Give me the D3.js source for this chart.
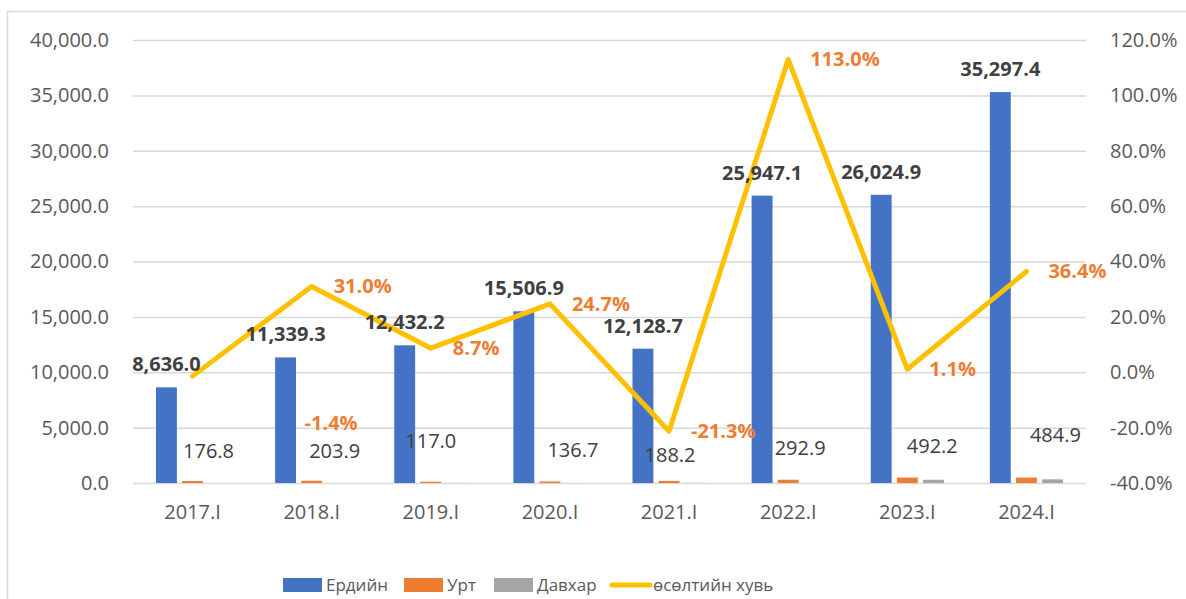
<!DOCTYPE html>
<html>
<head>
<meta charset="utf-8">
<script src="https://cdn.jsdelivr.net/npm/d3@7/dist/d3.min.js"></script>
<style>
  body { margin: 0; background: #fff; }
  text { font-family: "Open Sans", "Noto Sans", sans-serif; }
</style>
</head>
<body>
<div id="chart"></div>
<script>
// chart data
var categories = ["2017.I", "2018.I", "2019.I", "2020.I", "2021.I", "2022.I", "2023.I", "2024.I"];
var erdiin = [8636.0, 11339.3, 12432.2, 15506.9, 12128.7, 25947.1, 26024.9, 35297.4];
var urt = [176.8, 203.9, 117.0, 136.7, 188.2, 292.9, 492.2, 484.9];
var davkhar = [0, 0, 8, 5, 15, 0, 290, 330];
var growth = [-1.4, 31.0, 8.7, 24.7, -21.3, 113.0, 1.1, 36.4];
var leftTicks = [0, 5000, 10000, 15000, 20000, 25000, 30000, 35000, 40000];
var rightTicks = [-40, -20, 0, 20, 40, 60, 80, 100, 120];

var seriesNames = ["Ердийн", "Урт", "Давхар"];
var seriesColors = ["#4472C4", "#ED7D31", "#A5A5A5"];
var lineName = "өсөлтийн хувь";
var lineColor = "#FFC000";

// hand-placed label nudges for Урт values (as positioned in the original)
var urtNudgeX = [16, 23, 0, 23, 1, 12, 25, 29];
var urtNudgeY = [-23, -23, -34, -24, -19, -25, -25, -36];

var svgWidth = 1186;
var svgHeight = 599;

var margin = { top: 40, right: 100, bottom: 116, left: 133 };
var plotRight = 1086;
var plotBottom = 483;

var svg = d3.select("#chart")
  .append("svg")
  .attr("width", svgWidth)
  .attr("height", svgHeight);

// outer chart border (only left/top visible)
svg.append("rect")
  .attr("x", 7.5)
  .attr("y", 11.5)
  .attr("width", 1400)
  .attr("height", 800)
  .attr("fill", "none")
  .attr("stroke", "#D9D9D9")
  .attr("stroke-width", 1.5);

// scales
var x0 = d3.scaleBand()
  .domain(categories)
  .range([margin.left, plotRight])
  .padding(0);

var x1 = d3.scaleBand()
  .domain(seriesNames)
  .range([0, x0.bandwidth()])
  .paddingInner(0.2)
  .paddingOuter(0.88);

var yLeft = d3.scaleLinear()
  .domain([0, 40000])
  .range([plotBottom, margin.top]);

var yRight = d3.scaleLinear()
  .domain([-40, 120])
  .range([plotBottom, margin.top]);

var pct = d => d3.format(".1f")(d).replace("\u2212", "-") + "%";

// gridlines
svg.append("g")
  .selectAll("line")
  .data(leftTicks)
  .enter()
  .append("line")
  .attr("x1", margin.left)
  .attr("x2", plotRight)
  .attr("y1", d => yLeft(d) + 0.5)
  .attr("y2", d => yLeft(d) + 0.5)
  .attr("stroke", "#D9D9D9")
  .attr("stroke-width", 1.5);

// left axis
var fmtLeft = d3.format(",.1f");
var leftAxis = d3.axisLeft(yLeft)
  .tickValues(leftTicks)
  .tickFormat(fmtLeft)
  .tickSize(0)
  .tickPadding(24);

var gLeft = svg.append("g")
  .attr("transform", `translate(${margin.left}, 0)`)
  .call(leftAxis);
gLeft.select(".domain").remove();
gLeft.selectAll("text")
  .attr("fill", "#595959")
  .style("font-size", "20px");

// right axis
var rightAxis = d3.axisRight(yRight)
  .tickValues(rightTicks)
  .tickFormat(pct)
  .tickSize(0)
  .tickPadding(24);

var gRight = svg.append("g")
  .attr("transform", `translate(${plotRight}, 0)`)
  .call(rightAxis);
gRight.select(".domain").remove();
gRight.selectAll("text")
  .attr("fill", "#595959")
  .style("font-size", "20px");

// bottom axis
var bottomAxis = d3.axisBottom(x0)
  .tickSize(0)
  .tickPadding(22);

var gBottom = svg.append("g")
  .attr("transform", `translate(0, ${plotBottom})`)
  .call(bottomAxis);
gBottom.select(".domain").remove();
gBottom.selectAll("text")
  .attr("fill", "#595959")
  .style("font-size", "20px");

// bars
var seriesData = [erdiin, urt, davkhar];
var groups = svg.append("g")
  .selectAll("g")
  .data(categories)
  .enter()
  .append("g")
  .attr("transform", d => `translate(${x0(d)}, 0)`);

groups.selectAll("rect")
  .data((d, i) => seriesNames.map((s, k) => ({ name: s, value: seriesData[k][i], color: seriesColors[k] })))
  .enter()
  .append("rect")
  .attr("x", d => x1(d.name))
  .attr("width", x1.bandwidth())
  .attr("y", d => yLeft(d.value))
  .attr("height", d => plotBottom - yLeft(d.value))
  .attr("fill", d => d.color);

// growth line (under the labels)
var lineGen = d3.line()
  .x((d, i) => x0(categories[i]) + x0.bandwidth() / 2)
  .y(d => yRight(d));

svg.append("path")
  .datum(growth)
  .attr("d", lineGen)
  .attr("fill", "none")
  .attr("stroke", lineColor)
  .attr("stroke-width", 5)
  .attr("stroke-linejoin", "round")
  .attr("stroke-linecap", "round");

// labels for Ердийн (bold, above bars)
svg.append("g")
  .selectAll("text")
  .data(erdiin)
  .enter()
  .append("text")
  .attr("x", (d, i) => x0(categories[i]) + x1("Ердийн") + x1.bandwidth() / 2)
  .attr("y", d => yLeft(d) - 16)
  .attr("text-anchor", "middle")
  .attr("fill", "#404040")
  .style("font-size", "20px")
  .style("font-weight", "bold")
  .text(d => fmtLeft(d));

// labels for Урт
svg.append("g")
  .selectAll("text")
  .data(urt)
  .enter()
  .append("text")
  .attr("x", (d, i) => x0(categories[i]) + x1("Урт") + x1.bandwidth() / 2 + urtNudgeX[i])
  .attr("y", (d, i) => yLeft(d) + urtNudgeY[i])
  .attr("text-anchor", "middle")
  .attr("fill", "#404040")
  .style("font-size", "20px")
  .text(d => fmtLeft(d));

// growth labels (first one sits away from its point, as in the original)
svg.append("g")
  .selectAll("text")
  .data(growth)
  .enter()
  .append("text")
  .attr("x", (d, i) => x0(categories[i]) + x0.bandwidth() / 2 + (i === 0 ? 112 : 22))
  .attr("y", (d, i) => yRight(d) + (i === 0 ? 54 : 7))
  .attr("fill", "#ED7D31")
  .style("font-size", "20px")
  .style("font-weight", "bold")
  .text(d => pct(d));

// legend
var legendItems = [
  { name: seriesNames[0], color: seriesColors[0], x: 283, type: "rect" },
  { name: seriesNames[1], color: seriesColors[1], x: 404, type: "rect" },
  { name: seriesNames[2], color: seriesColors[2], x: 494, type: "rect" },
  { name: lineName, color: lineColor, x: 610, type: "line" }
];

var legend = svg.append("g")
  .attr("transform", "translate(0, 585)");

legendItems.forEach(item => {
  if (item.type === "rect") {
    legend.append("rect")
      .attr("x", item.x)
      .attr("y", -7)
      .attr("width", 39)
      .attr("height", 14)
      .attr("fill", item.color);
  } else {
    legend.append("line")
      .attr("x1", item.x + 2)
      .attr("x2", item.x + 40)
      .attr("y1", 0)
      .attr("y2", 0)
      .attr("stroke", item.color)
      .attr("stroke-width", 5)
      .attr("stroke-linecap", "round");
  }
  legend.append("text")
    .attr("x", item.x + 43)
    .attr("y", 6)
    .attr("fill", "#595959")
    .style("font-size", "17px")
    .text(item.name);
});
</script>
</body>
</html>
